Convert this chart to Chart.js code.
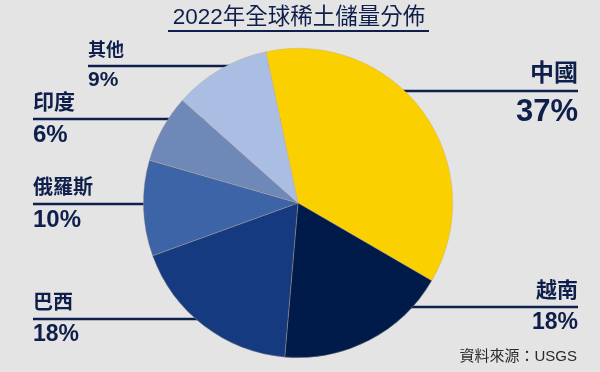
<!DOCTYPE html>
<html>
<head>
<meta charset="utf-8">
<script src="https://cdn.jsdelivr.net/npm/chart.js@4"></script>
<style>
  html, body { margin: 0; padding: 0; background: #e4e4e4; }
  #wrap { width: 600px; height: 372px; position: relative; }
</style>
</head>
<body>
<div id="wrap"><canvas id="pie"></canvas></div>
<script>
const countries = ['中國', '越南', '巴西', '俄羅斯', '印度', '其他'];
// percentages as printed in the callouts
const labelPct = [37, 18, 18, 10, 6, 9];
// slice sizes as drawn in the picture (slightly off the printed numbers)
const sliceShare = [36.7, 18, 18.1, 10, 7.1, 10.1];
const sliceColors = ['#fbd000', '#001a4a', '#163a80', '#3d64a6', '#6e89b8', '#aabde2'];
const titleText = '2022年全球稀土儲量分佈';
const sourceText = '資料來源：USGS';

// callout layout: [x, lineY, align, nameSize, valueSize]
const callouts = [
  [578, 91, 'right', 24, 31],
  [578, 307, 'right', 21, 23],
  [33, 319, 'left', 20, 23],
  [33, 204, 'left', 20, 24],
  [33, 119, 'left', 21, 24],
  [88, 66, 'left', 18, 21],
];

const NAVY = '#0f1f4b';
const FONT = '"Liberation Sans", "Noto Sans CJK TC", sans-serif';

const decorations = {
  id: 'decorations',
  beforeDatasetsDraw(chart) {
    const ctx = chart.ctx;
    const arc = chart.getDatasetMeta(0).data[0];
    ctx.save();
    ctx.strokeStyle = NAVY;
    ctx.lineWidth = 2.5;
    callouts.forEach(([x, y]) => {
      ctx.beginPath();
      ctx.moveTo(x, y);
      ctx.lineTo(arc.x, y);
      ctx.stroke();
    });
    ctx.restore();
  },
  afterDraw(chart) {
    const ctx = chart.ctx;
    ctx.save();
    ctx.fillStyle = NAVY;
    ctx.textBaseline = 'alphabetic';
    callouts.forEach(([x, y, align, nameSize, valueSize], i) => {
      ctx.textAlign = align;
      ctx.font = `bold ${nameSize}px ${FONT}`;
      ctx.fillText(countries[i], x, y - 10);
      ctx.font = `bold ${valueSize}px ${FONT}`;
      ctx.fillText(labelPct[i] + '%', x, y + valueSize * 0.97);
    });

    // title + underline
    ctx.textAlign = 'center';
    ctx.font = `22.5px ${FONT}`;
    ctx.fillText(titleText, 299, 24);
    ctx.strokeStyle = NAVY;
    ctx.lineWidth = 2;
    ctx.beginPath();
    ctx.moveTo(168, 31);
    ctx.lineTo(429, 31);
    ctx.stroke();

    // source note
    ctx.textAlign = 'right';
    ctx.fillStyle = '#2a2a2a';
    ctx.font = `15px ${FONT}`;
    ctx.fillText(sourceText, 577, 361);
    ctx.restore();
  }
};

new Chart(document.getElementById('pie'), {
  type: 'pie',
  data: {
    labels: countries,
    datasets: [{
      data: sliceShare,
      backgroundColor: sliceColors,
      borderColor: 'rgba(190,165,140,0.6)',
      borderWidth: 0.6,
    }]
  },
  options: {
    responsive: true,
    maintainAspectRatio: false,
    animation: false,
    rotation: -12,
    layout: { padding: { top: 48, bottom: 14, left: 0, right: 4 } },
    plugins: {
      legend: { display: false },
      tooltip: { enabled: false },
      title: { display: false },
    }
  },
  plugins: [decorations]
});
</script>
</body>
</html>
